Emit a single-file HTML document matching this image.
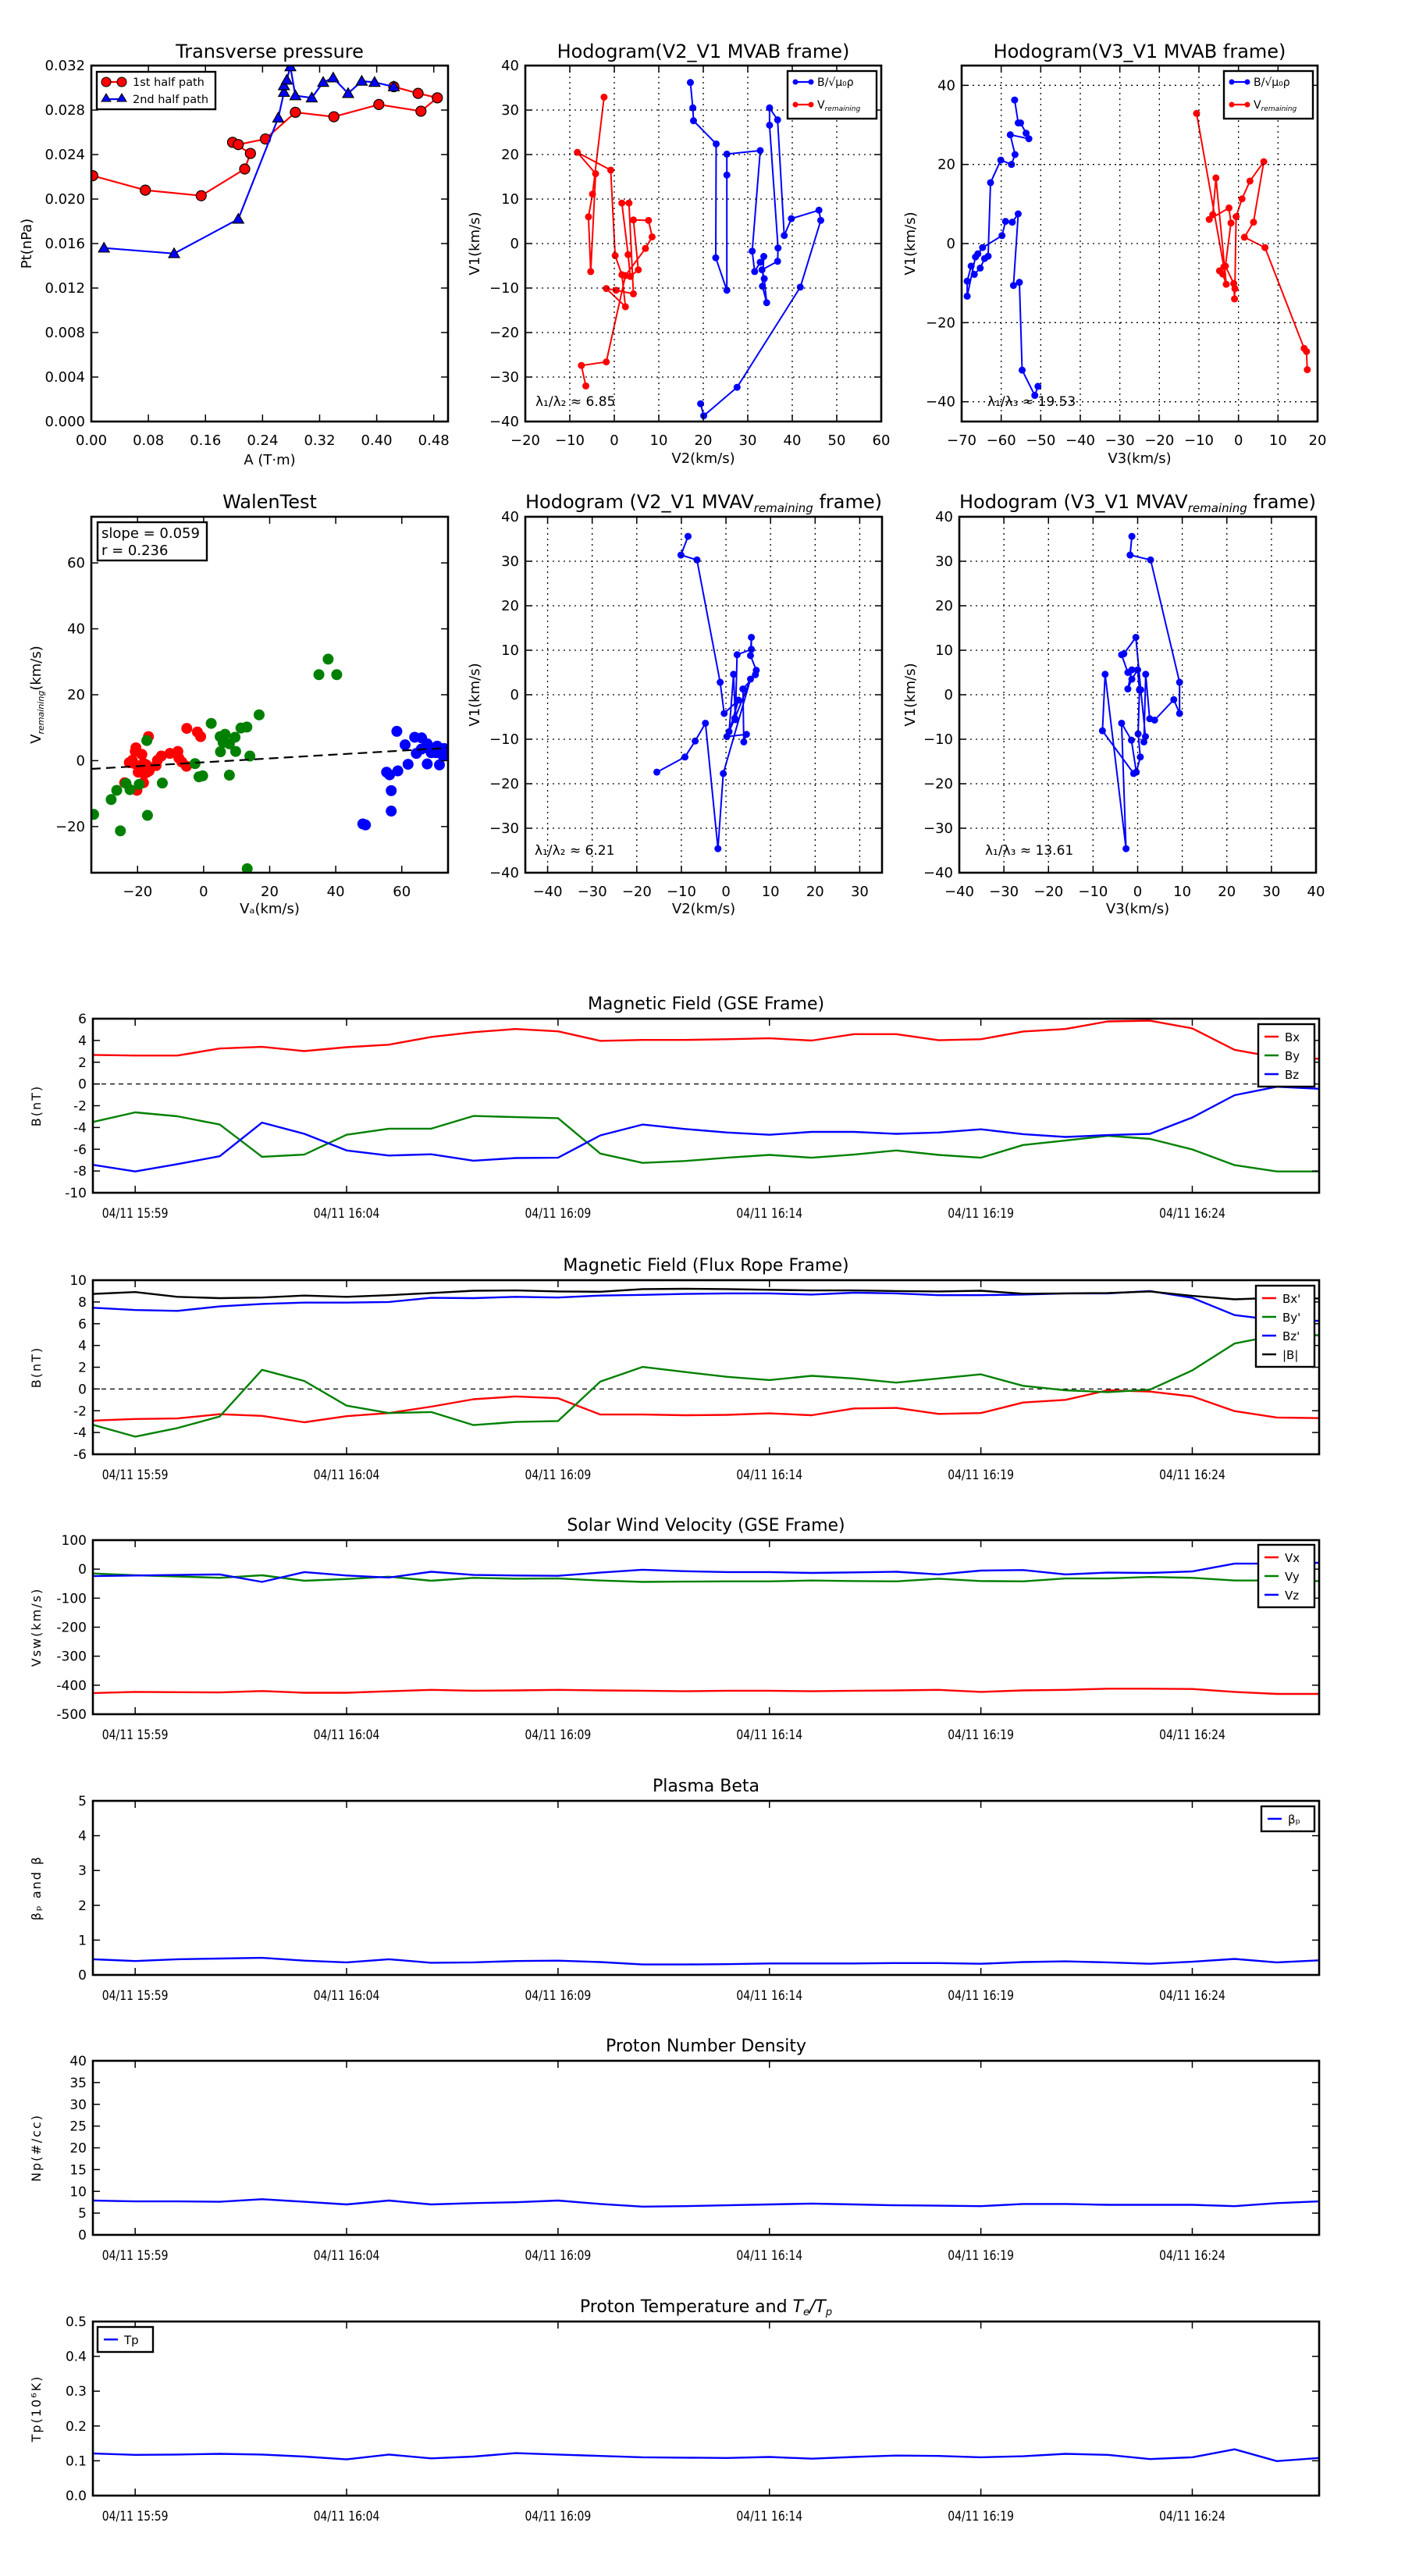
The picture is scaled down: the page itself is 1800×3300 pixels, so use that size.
<!DOCTYPE html>
<html><head><meta charset="utf-8"><style>
body{margin:0;background:#fff;}
svg{display:block;font-family:"DejaVu Sans","Liberation Sans",sans-serif;}
</style></head><body>
<svg id="fig" width="1800" height="3300" viewBox="0 0 1800 3300" xmlns="http://www.w3.org/2000/svg"></svg>
<script>
// ---------- DATA ----------
const tpRedA=[0.002,0.0757,0.154,0.215,0.223,0.198,0.206,0.244,0.286,0.340,0.403,0.462,0.485,0.458,0.424];
const tpRedP=[0.0221,0.0208,0.0203,0.0227,0.0241,0.0251,0.0249,0.0254,0.0278,0.0274,0.0285,0.0279,0.0291,0.0295,0.0301];
const tpBlueA=[0.0177,0.116,0.206,0.262,0.270,0.270,0.274,0.279,0.286,0.309,0.325,0.339,0.360,0.379,0.397,0.424];
const tpBlueP=[0.0156,0.0151,0.0182,0.0273,0.0296,0.0302,0.0307,0.0319,0.0293,0.0291,0.0305,0.0309,0.0295,0.0306,0.0305,0.0301];

const h1BlueX=[17.1,17.65,17.8,22.9,22.8,25.3,25.3,25.3,32.8,31.0,31.55,32.8,33.6,33.3,34.25,33.7,33.2,36.7,36.8,34.9,34.9,36.7,38.2,39.8,46.0,46.4,41.8,27.6,20.1,19.4];
const h1BlueY=[36.2,30.5,27.6,22.4,-3.2,-10.5,15.4,20.1,20.9,-1.7,-6.3,-4.2,-2.9,-9.6,-13.3,-7.9,-5.9,-4.0,-1.0,26.6,30.5,27.8,1.8,5.6,7.5,5.2,-9.8,-32.3,-38.7,-36.0];
const h1RedX=[-2.3,-4.9,-5.8,-5.3,-4.2,-8.3,-0.8,0.2,1.7,2.5,-1.8,0.4,4.3,3.3,1.7,3.1,3.6,5.4,4.3,7.7,8.5,7.0,2.5,-1.8,-7.4,-6.4];
const h1RedY=[32.9,11.1,6.0,-6.3,15.7,20.5,16.5,-2.7,-7.0,-14.2,-10.1,-10.5,-11.3,9.1,9.1,-2.5,-7.4,-5.9,5.3,5.2,1.5,-1.1,-7.2,-26.6,-27.4,-32.0];

const h2BlueX=[-56.6,-55.7,-55.1,-53.7,-53.0,-57.7,-56.5,-57.4,-60.1,-62.7,-63.3,-64.2,-65.3,-66.8,-67.6,-68.6,-68.6,-66.5,-65.9,-64.7,-59.8,-58.9,-57.2,-55.7,-56.9,-55.4,-54.7,-51.5,-50.7];
const h2BlueY=[36.3,30.5,30.5,27.9,26.5,27.5,22.5,20.0,21.1,15.4,-3.2,-3.8,-6.2,-7.8,-5.7,-9.5,-13.3,-3.4,-2.6,-1.0,2.0,5.6,5.4,7.5,-10.6,-9.8,-32.0,-38.4,-36.1];
const h2RedX=[-10.6,-3.7,-4.8,-4.0,-3.1,-5.7,-6.5,-7.4,-2.4,-1.9,-3.3,-1.2,-1.0,-0.9,-0.6,0.9,2.9,6.4,3.8,1.5,6.7,16.6,17.2,17.4];
const h2RedY=[32.9,-5.9,-6.9,-7.7,-10.3,16.6,7.3,6.1,9.0,5.2,-5.7,-10.1,-14.0,-11.4,6.8,11.3,15.8,20.7,5.4,1.6,-1.0,-26.5,-27.3,-31.9];

const m1X=[-8.5,-10.1,-6.5,-1.3,-0.4,2.8,0.7,1.7,2.1,2.5,5.7,5.7,5.5,6.8,6.6,3.8,4.0,4.6,0.2,2.0,5.5,-0.6,-1.8,-4.6,-6.9,-9.2,-15.5];
const m1Y=[35.6,31.4,30.3,2.8,-4.2,-1.2,-8.3,4.6,-5.6,9.0,10.2,12.9,8.8,5.5,4.5,1.3,-10.6,-8.9,-9.4,-5.3,3.5,-17.7,-34.6,-6.4,-10.4,-14.0,-17.4];
const m2X=[-1.3,-1.7,2.9,9.4,9.4,8.1,3.8,2.7,1.8,1.4,1.75,0.7,-0.4,-3.1,-3.6,-2.2,-1.3,-2.2,-1.3,0,0.4,0.1,0.6,-0.3,-1.4,-3.6,-2.6,-7.3,-7.9,-0.9];
const m2Y=[35.6,31.4,30.3,2.8,-4.2,-1.1,-5.7,-5.4,4.6,-10.6,-9.4,1.1,12.9,9.2,9.0,5.0,5.6,1.3,3.5,5.6,1.1,-8.8,-14.0,-17.4,-10.2,-6.4,-34.6,4.6,-8.1,-17.7];

const wRedX=[-20.5,-20.2,-18.7,-16.7,-22.5,-21.6,-19.8,-18.2,-17.6,-17.1,-16.5,-18.2,-23.9,-14.0,-12.8,-10.2,-7.8,-7.5,-6.6,-5.2,-5.1,-1.9,-0.9,-20.7,-19.1,-18.0,-17.3,-14.4,-19.8,-21.2];
const wRedY=[3.9,-9.0,1.9,7.3,-0.6,0.1,-1.7,-0.8,-1.7,-3.5,-3.1,-6.7,-6.7,0.1,1.4,2.2,2.8,0.8,-0.4,-1.7,9.8,8.7,7.3,2.8,-2.6,-4.0,-1.3,-1.5,-3.5,-0.8];
const wGreenX=[-33.3,-28.0,-26.3,-25.2,-23.5,-22.3,-19.5,-17.2,-17.0,-12.5,-2.6,-1.4,-0.3,2.3,5.0,5.1,5.9,6.5,7.8,7.8,9.5,9.7,11.3,13.1,14.0,13.2,16.8,34.9,37.7,40.3];
const wGreenY=[-16.3,-11.8,-9.0,-21.3,-6.9,-8.8,-7.2,6.1,-16.6,-6.8,-0.9,-4.9,-4.6,11.3,7.3,2.7,5.5,8.0,5.1,-4.4,7.1,2.8,9.9,10.2,1.4,-32.8,13.9,26.1,30.8,26.1];
const wBlueX=[48.2,49.0,55.4,56.3,56.8,56.8,58.8,58.5,61.0,61.9,63.9,64.4,66.0,65.9,67.7,67.7,68.5,68.9,69.8,70.3,70.7,71.4,71.6,72.1,72.5,72.8];
const wBlueY=[-19.2,-19.5,-3.5,-4.3,-9.1,-15.3,-3.1,8.9,4.8,-1.1,7.1,2.2,6.9,3.5,5.1,-1.0,3.3,2.4,3.7,2.4,4.4,-1.3,3.7,2.4,1.4,3.7];
const walenSlope=0.059, walenIntercept=-0.5;

const timeTickIdx=[1,6,11,16,21,26];
const timeTickLabels=["04/11 15:59","04/11 16:04","04/11 16:09","04/11 16:14","04/11 16:19","04/11 16:24"];
const gseBx=[2.67,2.61,2.61,3.26,3.41,3.02,3.38,3.61,4.32,4.76,5.05,4.84,3.96,4.05,4.05,4.11,4.2,3.99,4.58,4.58,4.02,4.11,4.82,5.05,5.75,5.81,5.11,3.14,2.44,2.32];
const gseBy=[-3.49,-2.61,-2.97,-3.73,-6.69,-6.49,-4.67,-4.11,-4.11,-2.94,-3.05,-3.14,-6.4,-7.25,-7.08,-6.78,-6.52,-6.78,-6.49,-6.11,-6.52,-6.78,-5.61,-5.2,-4.76,-5.05,-6.02,-7.46,-8.04,-8.04];
const gseBz=[-7.43,-8.04,-7.37,-6.64,-3.55,-4.58,-6.11,-6.58,-6.46,-7.05,-6.81,-6.78,-4.73,-3.73,-4.14,-4.46,-4.67,-4.4,-4.4,-4.58,-4.46,-4.17,-4.61,-4.87,-4.7,-4.58,-3.08,-1.03,-0.26,-0.44];
const frBx=[-2.91,-2.76,-2.71,-2.32,-2.47,-3.06,-2.5,-2.21,-1.62,-0.94,-0.68,-0.85,-2.35,-2.35,-2.41,-2.38,-2.24,-2.41,-1.79,-1.74,-2.29,-2.21,-1.24,-1.0,-0.12,-0.24,-0.68,-2.03,-2.62,-2.68];
const frBy=[-3.29,-4.38,-3.59,-2.53,1.76,0.74,-1.53,-2.21,-2.12,-3.32,-3.03,-2.94,0.68,2.03,1.56,1.12,0.82,1.21,0.97,0.59,0.97,1.35,0.29,-0.12,-0.29,-0.06,1.71,4.18,4.94,4.94];
const frBz=[7.47,7.26,7.18,7.59,7.82,7.94,7.94,8.0,8.38,8.35,8.47,8.41,8.59,8.65,8.74,8.79,8.79,8.68,8.85,8.79,8.62,8.62,8.68,8.79,8.79,9.0,8.38,6.79,6.32,6.26];
const frBt=[8.74,8.91,8.47,8.35,8.41,8.59,8.47,8.62,8.82,9.03,9.06,8.97,8.94,9.18,9.21,9.18,9.12,9.06,9.06,9.0,8.97,9.03,8.76,8.79,8.82,8.97,8.56,8.24,8.38,8.32];
const vx=[-427,-423,-424,-425,-420,-426,-426,-421,-416,-419,-418,-416,-418,-419,-421,-419,-419,-421,-419,-418,-416,-423,-418,-416,-412,-412,-413,-423,-430,-430];
const vy=[-15,-21,-25,-30,-21,-40,-34,-26,-40,-30,-33,-32,-39,-44,-43,-42,-42,-39,-41,-42,-33,-41,-42,-32,-32,-27,-30,-39,-39,-41];
const vz=[-24,-22,-20,-18,-44,-10,-22,-29,-9,-20,-22,-23,-12,-2,-7,-10,-10,-13,-11,-9,-18,-5,-3,-18,-12,-13,-8,19,19,22];
const beta=[0.45,0.40,0.45,0.47,0.49,0.41,0.36,0.45,0.35,0.36,0.40,0.41,0.37,0.30,0.30,0.31,0.33,0.33,0.33,0.34,0.34,0.32,0.37,0.39,0.36,0.32,0.38,0.46,0.36,0.42];
const dens=[7.9,7.7,7.7,7.6,8.2,7.6,7.0,7.9,7.0,7.3,7.5,7.9,7.1,6.5,6.6,6.8,7.0,7.2,7.0,6.8,6.7,6.6,7.1,7.1,6.9,6.9,6.9,6.6,7.3,7.7];
const temp=[0.121,0.117,0.118,0.120,0.118,0.112,0.104,0.118,0.107,0.112,0.122,0.118,0.114,0.110,0.109,0.108,0.111,0.106,0.111,0.115,0.114,0.110,0.113,0.120,0.117,0.105,0.110,0.133,0.099,0.108];

// ---------- HELPERS ----------
const NS="http://www.w3.org/2000/svg";
const fig=document.getElementById('fig');
function mk(tag,name,parent,attrs){
  const e=document.createElementNS(NS,tag);
  
  
  for(const k in attrs) e.setAttribute(k,attrs[k]);
  (parent||fig).appendChild(e);
  return e;
}
function txt(name,parent,x,y,s,size,anchor,extra){
  const t=mk('text',name,parent,Object.assign({x:x,y:y,'font-size':size,'text-anchor':anchor||'middle',fill:'#000'},extra||{}));
  t.textContent=s;
  return t;
}
function sub(t,s,size,italic,dy){
  const sp=document.createElementNS(NS,'tspan');
  sp.setAttribute('font-size',size);
  if(italic) sp.setAttribute('font-style','italic');
  sp.setAttribute('dy',dy);
  sp.textContent=s;
  t.appendChild(sp);
  return sp;
}
function fmtM(v,d){const s=v.toFixed(d);return v<0?'\u2212'+s.slice(1):s;}

function axes(c){
  const g=mk('g',c.name,fig,{});
  const sx=v=>c.x0+(v-c.xmin)/(c.xmax-c.xmin)*c.w;
  const sy=v=>c.y0+c.h-(v-c.ymin)/(c.ymax-c.ymin)*c.h;
  const clipId='clip-'+c.name;
  const cp=mk('clipPath','clip-region',g,{id:clipId});
  mk('rect','clip-rect',cp,{x:c.x0,y:c.y0,width:c.w,height:c.h});
  const plot=mk('g','plot-area',g,{'clip-path':'url(#'+clipId+')'});
  c.xticks.forEach((v,i)=>{
    const x=sx(v);
    if(c.grid) mk('line','x-grid-line',g,{x1:x,x2:x,y1:c.y0,y2:c.y0+c.h,stroke:'#000','stroke-width':1.3,'stroke-dasharray':'2,5'});
    mk('line','x-tick',g,{x1:x,x2:x,y1:c.y0+c.h,y2:c.y0+c.h-9,stroke:'#000','stroke-width':1.5});
    mk('line','x-tick-top',g,{x1:x,x2:x,y1:c.y0,y2:c.y0+9,stroke:'#000','stroke-width':1.5});
    const t=txt('x-tick-label',g,x,c.y0+c.h+(c.xlabOff||30),c.xlabels[i],c.tickSize||18,'middle');
    if(c.condense) t.setAttribute('transform',`translate(${x},0) scale(0.82,1) translate(${-x},0)`);
  });
  c.yticks.forEach((v,i)=>{
    const y=sy(v);
    if(c.grid) mk('line','y-grid-line',g,{x1:c.x0,x2:c.x0+c.w,y1:y,y2:y,stroke:'#000','stroke-width':1.3,'stroke-dasharray':'2,5'});
    mk('line','y-tick',g,{x1:c.x0,x2:c.x0+9,y1:y,y2:y,stroke:'#000','stroke-width':1.5});
    mk('line','y-tick-right',g,{x1:c.x0+c.w,x2:c.x0+c.w-9,y1:y,y2:y,stroke:'#000','stroke-width':1.5});
    txt('y-tick-label',g,c.x0-(c.ylabOff||8),y+6,c.ylabels[i],c.tickSize||18,'end');
  });
  let tt=null;
  if(c.title) tt=txt('chart-title',g,c.x0+c.w/2,c.titleY,c.title,c.titleSize||24,'middle');
  if(c.xlabel) txt('x-axis-title',g,c.x0+c.w/2,c.xlabelY,c.xlabel,18,'middle');
  if(c.ylabel){const t=txt('y-axis-title',g,c.ylabelX,c.y0+c.h/2,c.ylabel,c.ylabelSize||18,'middle',{transform:'rotate(-90 '+c.ylabelX+' '+(c.y0+c.h/2)+')'});
    if(c.ylabelSpacing) t.setAttribute('letter-spacing',c.ylabelSpacing);}
  return {g,plot,sx,sy,c,title:tt,
    frame(){mk('rect','axes-frame',g,{x:c.x0,y:c.y0,width:c.w,height:c.h,fill:'none',stroke:'#000','stroke-width':2.6});}};
}
function line(ax,name,xs,ys,color,w){
  const d=xs.map((x,i)=>(i?'L':'M')+ax.sx(x).toFixed(1)+','+ax.sy(ys[i]).toFixed(1)).join('');
  return mk('path',name,ax.plot,{d:d,fill:'none',stroke:color,'stroke-width':w||2.4,'stroke-linejoin':'round'});
}
function dots(ax,name,xs,ys,color,r,stroke){
  xs.forEach((x,i)=>{
    mk('circle',name,ax.plot,{cx:ax.sx(x),cy:ax.sy(ys[i]),r:r,fill:color,stroke:stroke||'none','stroke-width':1.2});
  });
}
function tris(ax,name,xs,ys,color,s){
  xs.forEach((x,i)=>{
    const cx=ax.sx(x),cy=ax.sy(ys[i]);
    mk('path',name,ax.plot,{d:`M${cx},${cy-s}L${cx+s},${cy+s*0.75}L${cx-s},${cy+s*0.75}Z`,fill:color,stroke:'#000','stroke-width':1.2});
  });
}
function legendBox(name,x,y,w,h){
  return mk('rect',name,fig,{x:x,y:y,width:w,height:h,fill:'#fff',stroke:'#000','stroke-width':2.4});
}
function range(a,b,s){const r=[];for(let v=a;v<=b+1e-9;v+=s)r.push(+v.toFixed(6));return r;}

// ---------- TRANSVERSE PRESSURE ----------
{
  const xt=range(0,0.48,0.08), yt=range(0,0.032,0.004);
  const ax=axes({name:'transverse-pressure-chart',x0:117,y0:84,w:457,h:456,xmin:0,xmax:0.5,ymin:0,ymax:0.032,
    xticks:xt,xlabels:xt.map(v=>v.toFixed(2)),yticks:yt,ylabels:yt.map(v=>v.toFixed(3)),
    title:'Transverse pressure',titleY:74,xlabel:'A (T\u00b7m)',xlabelY:595,ylabel:'Pt(nPa)',ylabelX:40});
  line(ax,'first-half-path-line',tpRedA,tpRedP,'#f00',2.2);
  dots(ax,'first-half-path-marker',tpRedA,tpRedP,'#f00',6.5,'#000');
  line(ax,'second-half-path-line',tpBlueA,tpBlueP,'#00f',2.2);
  tris(ax,'second-half-path-marker',tpBlueA,tpBlueP,'#00f',7);
  ax.frame();
  legendBox('legend',124,92,152,48);
  mk('line','legend-line-red',fig,{x1:132,x2:157,y1:105,y2:105,stroke:'#f00','stroke-width':2.2});
  mk('circle','legend-marker-red',fig,{cx:136,cy:105,r:6,fill:'#f00',stroke:'#000'});
  mk('circle','legend-marker-red',fig,{cx:156,cy:105,r:6,fill:'#f00',stroke:'#000'});
  txt('legend-label',fig,170,110,'1st half path',14.5,'start');
  mk('line','legend-line-blue',fig,{x1:136,x2:156,y1:127,y2:127,stroke:'#00f','stroke-width':2.2});
  mk('path','legend-marker-blue',fig,{d:'M136,120L142,130L130,130Z',fill:'#00f',stroke:'#000'});
  mk('path','legend-marker-blue',fig,{d:'M156,120L162,130L150,130Z',fill:'#00f',stroke:'#000'});
  txt('legend-label',fig,170,132,'2nd half path',14.5,'start');
}

// ---------- HODOGRAM MVAB ----------
function hodoLegend(x){
  legendBox('legend',x,91,114,61);
  mk('line','legend-line-blue',fig,{x1:x+8,x2:x+32,y1:105,y2:105,stroke:'#00f','stroke-width':2.2});
  mk('circle','legend-marker',fig,{cx:x+10,cy:105,r:3.5,fill:'#00f'});
  mk('circle','legend-marker',fig,{cx:x+30,cy:105,r:3.5,fill:'#00f'});
  txt('legend-label',fig,x+38,110,'B/\u221a\u03bc\u2080\u03c1',14,'start');
  mk('line','legend-line-red',fig,{x1:x+8,x2:x+32,y1:134,y2:134,stroke:'#f00','stroke-width':2.2});
  mk('circle','legend-marker',fig,{cx:x+10,cy:134,r:3.5,fill:'#f00'});
  mk('circle','legend-marker',fig,{cx:x+30,cy:134,r:3.5,fill:'#f00'});
  const t=txt('legend-label',fig,x+38,139,'V',14,'start');
  sub(t,'remaining',9,true,3);
}
{
  const xt=range(-20,60,10), yt=range(-40,40,10);
  const ax=axes({name:'hodogram-v2-v1-mvab-chart',x0:673,y0:84,w:456,h:456,xmin:-20,xmax:60,ymin:-40,ymax:40,grid:true,
    xticks:xt,xlabels:xt.map(v=>fmtM(v,0)),yticks:yt,ylabels:yt.map(v=>fmtM(v,0)),
    title:'Hodogram(V2_V1 MVAB frame)',titleY:74,xlabel:'V2(km/s)',xlabelY:593,ylabel:'V1(km/s)',ylabelX:614});
  line(ax,'b-alfven-line',h1BlueX,h1BlueY,'#00f',2);
  dots(ax,'b-alfven-point',h1BlueX,h1BlueY,'#00f',4.5);
  line(ax,'v-remaining-line',h1RedX,h1RedY,'#f00',2);
  dots(ax,'v-remaining-point',h1RedX,h1RedY,'#f00',4.5);
  ax.frame();
  txt('eigenvalue-ratio',fig,686,520,'\u03bb\u2081/\u03bb\u2082 \u2248 6.85',17,'start');
  hodoLegend(1009);
}
{
  const xt=range(-70,20,10), yt=[-40,-20,0,20,40];
  const ax=axes({name:'hodogram-v3-v1-mvab-chart',x0:1232,y0:84,w:456,h:456,xmin:-70,xmax:20,ymin:-45,ymax:45,grid:true,
    xticks:xt,xlabels:xt.map(v=>fmtM(v,0)),yticks:yt,ylabels:yt.map(v=>fmtM(v,0)),
    title:'Hodogram(V3_V1 MVAB frame)',titleY:74,xlabel:'V3(km/s)',xlabelY:593,ylabel:'V1(km/s)',ylabelX:1172});
  line(ax,'b-alfven-line',h2BlueX,h2BlueY,'#00f',2);
  dots(ax,'b-alfven-point',h2BlueX,h2BlueY,'#00f',4.5);
  line(ax,'v-remaining-line',h2RedX,h2RedY,'#f00',2);
  dots(ax,'v-remaining-point',h2RedX,h2RedY,'#f00',4.5);
  ax.frame();
  txt('eigenvalue-ratio',fig,1265,520,'\u03bb\u2081/\u03bb\u2083 \u2248 19.53',17,'start');
  hodoLegend(1568);
}

// ---------- WALEN TEST ----------
{
  const xt=[-20,0,20,40,60], yt=[-20,0,20,40,60];
  const ax=axes({name:'walen-test-chart',x0:117,y0:662,w:457,h:456,xmin:-34,xmax:74,ymin:-34,ymax:74,
    xticks:xt,xlabels:xt.map(v=>fmtM(v,0)),yticks:yt,ylabels:yt.map(v=>fmtM(v,0)),
    title:'WalenTest',titleY:651,xlabel:'V\u2090(km/s)',xlabelY:1170});
  const yl=txt('y-axis-title',fig,52,890,'V',18,'middle',{transform:'rotate(-90 52 890)'});
  sub(yl,'remaining',11,true,4);
  sub(yl,'(km/s)',18,false,-4);
  dots(ax,'walen-point-red',wRedX,wRedY,'#f00',7);
  dots(ax,'walen-point-green',wGreenX,wGreenY,'#008000',7);
  dots(ax,'walen-point-blue',wBlueX,wBlueY,'#00f',7);
  mk('line','walen-fit-line',ax.plot,{x1:ax.sx(-34),y1:ax.sy(walenSlope*-34+walenIntercept),x2:ax.sx(74),y2:ax.sy(walenSlope*74+walenIntercept),stroke:'#000','stroke-width':2.2,'stroke-dasharray':'12,7'});
  ax.frame();
  legendBox('stats-box',125,669,140,49);
  txt('slope-label',fig,130,689,'slope = 0.059',18,'start');
  txt('r-label',fig,130,711,'r = 0.236',18,'start');
}

// ---------- HODOGRAM MVAV ----------
function mvavTitle(ax,pre){
  const t=ax.title; t.textContent=pre;
  sub(t,'remaining',15,true,5);
  sub(t,' frame)',24,false,-5);
}
{
  const xt=range(-40,30,10), yt=range(-40,40,10);
  const ax=axes({name:'hodogram-v2-v1-mvav-chart',x0:673,y0:662,w:457,h:456,xmin:-45,xmax:35,ymin:-40,ymax:40,grid:true,
    xticks:xt,xlabels:xt.map(v=>fmtM(v,0)),yticks:yt,ylabels:yt.map(v=>fmtM(v,0)),
    title:'x',titleY:651,xlabel:'V2(km/s)',xlabelY:1170,ylabel:'V1(km/s)',ylabelX:614});
  mvavTitle(ax,'Hodogram (V2_V1 MVAV');
  line(ax,'mvav-line',m1X,m1Y,'#00f',2);
  dots(ax,'mvav-point',m1X,m1Y,'#00f',4.5);
  ax.frame();
  txt('eigenvalue-ratio',fig,685,1095,'\u03bb\u2081/\u03bb\u2082 \u2248 6.21',17,'start');
}
{
  const xt=range(-40,40,10), yt=range(-40,40,10);
  const ax=axes({name:'hodogram-v3-v1-mvav-chart',x0:1229,y0:662,w:457,h:456,xmin:-40,xmax:40,ymin:-40,ymax:40,grid:true,
    xticks:xt,xlabels:xt.map(v=>fmtM(v,0)),yticks:yt,ylabels:yt.map(v=>fmtM(v,0)),
    title:'x',titleY:651,xlabel:'V3(km/s)',xlabelY:1170,ylabel:'V1(km/s)',ylabelX:1172});
  mvavTitle(ax,'Hodogram (V3_V1 MVAV');
  line(ax,'mvav-line',m2X,m2Y,'#00f',2);
  dots(ax,'mvav-point',m2X,m2Y,'#00f',4.5);
  ax.frame();
  txt('eigenvalue-ratio',fig,1262,1095,'\u03bb\u2081/\u03bb\u2083 \u2248 13.61',17,'start');
}

// ---------- TIME SERIES ----------
function tsAxes(name,y0,ymin,ymax,yt,ylabels,title,ylabel){
  return axes({name:name,x0:119,y0:y0,w:1571,h:223,xmin:0,xmax:29,ymin:ymin,ymax:ymax,
    xticks:timeTickIdx,xlabels:timeTickLabels,yticks:yt,ylabels:ylabels,xlabOff:32,tickSize:17,condense:true,
    title:title,titleY:y0-12,titleSize:22,ylabel:ylabel,ylabelX:52,ylabelSize:16,ylabelSpacing:2});
}
function tsLegend(x,y,w,items){
  legendBox('legend',x,y,w,items.length*24+8);
  items.forEach((it,i)=>{
    const cy=y+16+i*24;
    mk('line','legend-line',fig,{x1:x+8,x2:x+26,y1:cy,y2:cy,stroke:it[1],'stroke-width':2.5});
    txt('legend-label',fig,x+34,cy+6,it[0],15,'start');
  });
}
const idx=gseBx.map((_,i)=>i);
{
  const yt=range(-10,6,2);
  const ax=tsAxes('magnetic-field-gse-chart',1305,-10,6,yt,yt.map(String),'Magnetic Field (GSE Frame)','B(nT)');
  mk('line','zero-line',ax.plot,{x1:119,x2:1690,y1:ax.sy(0),y2:ax.sy(0),stroke:'#000','stroke-width':1.3,'stroke-dasharray':'6,5'});
  line(ax,'bx-line',idx,gseBx,'#f00');
  line(ax,'by-line',idx,gseBy,'#008000');
  line(ax,'bz-line',idx,gseBz,'#00f');
  ax.frame();
  tsLegend(1612,1312,72,[['Bx','#f00'],['By','#008000'],['Bz','#00f']]);
}
{
  const yt=range(-6,10,2);
  const ax=tsAxes('magnetic-field-flux-rope-chart',1640,-6,10,yt,yt.map(String),'Magnetic Field (Flux Rope Frame)','B(nT)');
  mk('line','zero-line',ax.plot,{x1:119,x2:1690,y1:ax.sy(0),y2:ax.sy(0),stroke:'#000','stroke-width':1.3,'stroke-dasharray':'6,5'});
  line(ax,'bx-prime-line',idx,frBx,'#f00');
  line(ax,'by-prime-line',idx,frBy,'#008000');
  line(ax,'bz-prime-line',idx,frBz,'#00f');
  line(ax,'b-magnitude-line',idx,frBt,'#000');
  ax.frame();
  tsLegend(1609,1647,75,[["Bx'",'#f00'],["By'",'#008000'],["Bz'",'#00f'],['|B|','#000']]);
}
{
  const yt=range(-500,100,100);
  const ax=tsAxes('solar-wind-velocity-chart',1973,-500,100,yt,yt.map(String),'Solar Wind Velocity (GSE Frame)','Vsw(km/s)');
  line(ax,'vx-line',idx,vx,'#f00');
  line(ax,'vy-line',idx,vy,'#008000');
  line(ax,'vz-line',idx,vz,'#00f');
  ax.frame();
  tsLegend(1612,1979,72,[['Vx','#f00'],['Vy','#008000'],['Vz','#00f']]);
}
{
  const yt=range(0,5,1);
  const ax=tsAxes('plasma-beta-chart',2307,0,5,yt,yt.map(String),'Plasma Beta','\u03b2\u209a and \u03b2');
  line(ax,'beta-line',idx,beta,'#00f');
  ax.frame();
  tsLegend(1616,2314,68,[['\u03b2\u209a','#00f']]);
}
{
  const yt=range(0,40,5);
  const ax=tsAxes('proton-density-chart',2640,0,40,yt,yt.map(String),'Proton Number Density','Np(#/cc)');
  line(ax,'density-line',idx,dens,'#00f');
  ax.frame();
}
{
  const yt=range(0,0.5,0.1);
  const ax=tsAxes('proton-temperature-chart',2974,0,0.5,yt,yt.map(v=>v.toFixed(1)),'Proton Temperature and ','Tp(10\u2076K)');
  const t=ax.title;
  sub(t,'T',22,true,0); sub(t,'e',13,true,4); sub(t,'/T',22,true,-4); sub(t,'p',13,true,4);
  line(ax,'temperature-line',idx,temp,'#00f');
  ax.frame();
  tsLegend(125,2981,71,[['Tp','#00f']]);
}
</script>
</body></html>
